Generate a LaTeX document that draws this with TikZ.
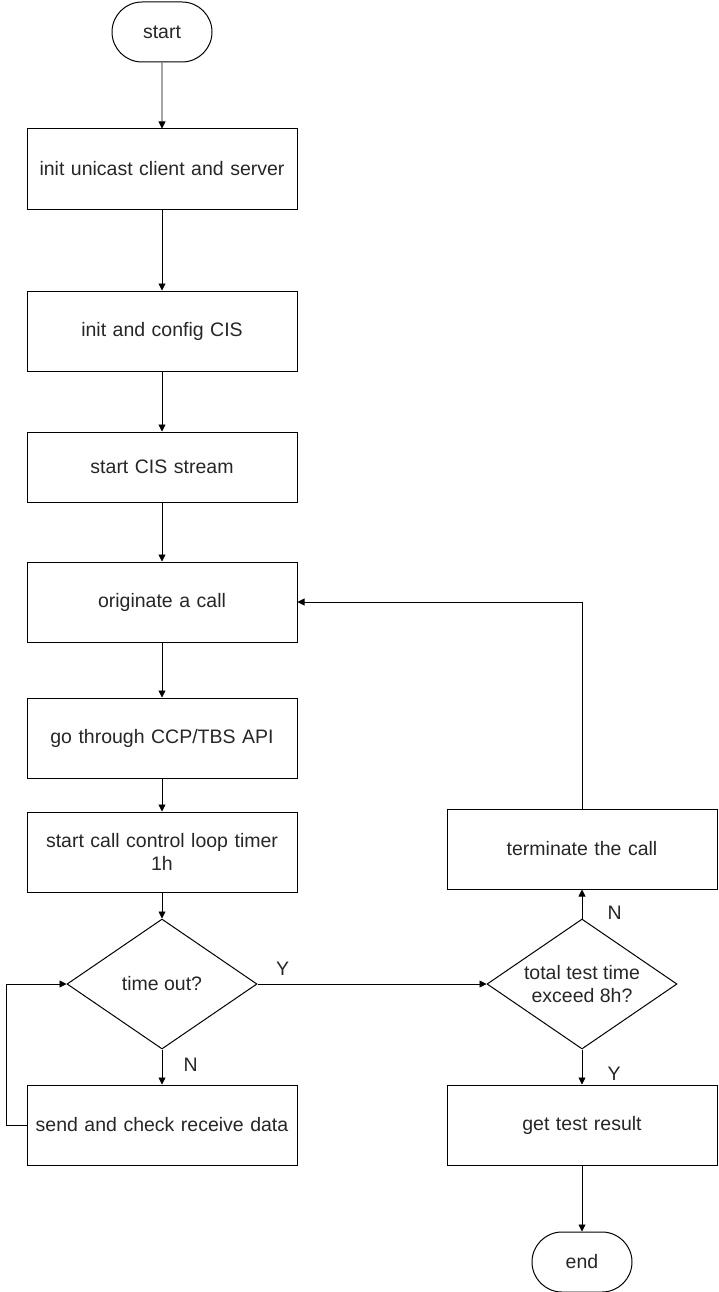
\documentclass[tikz,border=0pt]{standalone}
\usepackage{fontspec}
\setmainfont{Liberation Sans}
\usetikzlibrary{shapes.geometric,shapes.misc,arrows.meta}

\tikzset{
    stepbox/.style={draw, line width=1pt, minimum width=270pt, minimum height=80pt, align=center, text width=255pt},
    termbox/.style={draw, line width=1pt, rounded rectangle, minimum width=100pt, minimum height=60pt, inner xsep=0pt},
    choice/.style={draw, line width=1pt, diamond, aspect=1.46, minimum width=190pt, minimum height=130pt, align=center, inner sep=0pt},
    flow/.style={-{Triangle[length=7pt,width=7pt]}, line width=0.8pt}
}

\begin{document}
\begin{tikzpicture}[x=1pt, y=-1pt, font=\fontsize{19.5}{23}\selectfont, text=black!85]
    \useasboundingbox (0,0) rectangle (719,1292);
    \node [termbox, text width=96pt, align=center] (start) at (162,32) {start};
    \node [stepbox] (unicast) at (162,169) {init unicast client and server};
    \node [stepbox] (config) at (162,331) {init and config CIS};
    \node [stepbox, minimum height=70pt] (stream) at (162,467) {start CIS stream};
    \node [stepbox] (call) at (162,602) {originate a call};
    \node [stepbox] (api) at (162,738) {go through CCP/TBS API};
    \node [stepbox] (timer) at (162,852) {start call control loop timer\\1h};
    \node [choice] (timeout) at (162,984) {time out?};
    \node [stepbox] (send) at (162,1125) {send and check receive data};
    \node [choice] (total) at (582,984) {total test time\\exceed 8h?};
    \node [stepbox] (terminate) at (582,849) {terminate the call};
    \node [stepbox] (result) at (582,1125) {get test result};
    \node [termbox, text width=96pt, align=center] (end) at (582,1262) {end};

    \draw [flow] (start) -- (unicast);
    \draw [flow] (unicast) -- (config);
    \draw [flow] (config) -- (stream);
    \draw [flow] (stream) -- (call);
    \draw [flow] (call) -- (api);
    \draw [flow] (api) -- (timer);
    \draw [flow] (timer) -- (timeout);
    \draw [flow] (timeout) -- node [pos=0.45, right=18pt] {N} (send);
    \draw [flow] (send.west) -- ++(-20,0) |- (timeout.west);
    \draw [flow] (timeout.east) -- node [pos=0.11, above=5pt] {Y} (total.west);
    \draw [flow] (total) -- node [pos=0.2, right=22pt] {N} (terminate);
    \draw [flow] (terminate.north) |- (call.east);
    \draw [flow] (total) -- node [pos=0.7, right=22pt] {Y} (result);
    \draw [flow] (result) -- (end);
\end{tikzpicture}
\end{document}
